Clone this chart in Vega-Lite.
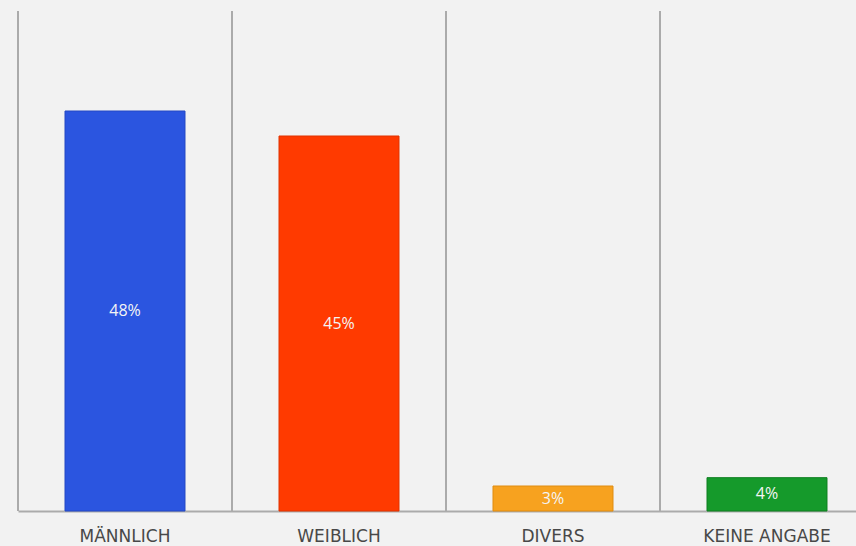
{
  "$schema": "https://vega.github.io/schema/vega-lite/v6.json",
  "width": 856,
  "height": 500,
  "autosize": {"type": "none"},
  "padding": {"left": 18, "top": 11, "right": 0, "bottom": 35},
  "background": "#f2f2f2",
  "config": {"view": {"stroke": null}},
  "data": {"values": [
    {"kategorie": "MÄNNLICH", "anteil": 48, "label": "48%"},
    {"kategorie": "WEIBLICH", "anteil": 45, "label": "45%"},
    {"kategorie": "DIVERS", "anteil": 3, "label": "3%"},
    {"kategorie": "KEINE ANGABE", "anteil": 4, "label": "4%"}
  ]},
  "encoding": {
    "x": {"field": "kategorie", "type": "nominal", "sort": null,
      "scale": {"paddingInner": 0, "paddingOuter": 0},
      "axis": {"title": null, "labelAngle": 0, "ticks": false, "domainColor": "#ababab", "domainWidth": 2,
        "labelFont": "DejaVu Sans", "labelFontSize": 17, "labelColor": "#484848", "labelPadding": 17}}
  },
  "layer": [
    {
      "mark": {"type": "rule", "color": "#ababab", "strokeWidth": 2},
      "encoding": {"x": {"field": "kategorie", "type": "nominal", "sort": null, "bandPosition": 0}}
    },
    {
      "mark": {"type": "bar", "width": {"band": 0.5607}, "strokeWidth": 1},
      "encoding": {
        "y": {"field": "anteil", "type": "quantitative", "scale": {"domain": [0, 60]}, "axis": null},
        "color": {"field": "kategorie", "type": "nominal", "sort": null, "legend": null,
          "scale": {"domain": ["MÄNNLICH", "WEIBLICH", "DIVERS", "KEINE ANGABE"], "range": ["#2b55e0", "#ff3a00", "#f7a21f", "#159a2b"]}},
        "stroke": {"field": "kategorie", "type": "nominal", "sort": null, "legend": null,
          "scale": {"domain": ["MÄNNLICH", "WEIBLICH", "DIVERS", "KEINE ANGABE"], "range": ["#2448c4", "#e03300", "#e08c10", "#0f7f20"]}}
      }
    },
    {
      "mark": {"type": "text", "baseline": "middle", "align": "center", "font": "Open Sans", "fontSize": 16, "color": "#f4f4f4"},
      "encoding": {
        "y": {"field": "anteil", "type": "quantitative", "scale": {"domain": [0, 120]}, "axis": null},
        "text": {"field": "label"}
      }
    }
  ],
  "resolve": {"scale": {"y": "independent", "color": "independent"}}
}
